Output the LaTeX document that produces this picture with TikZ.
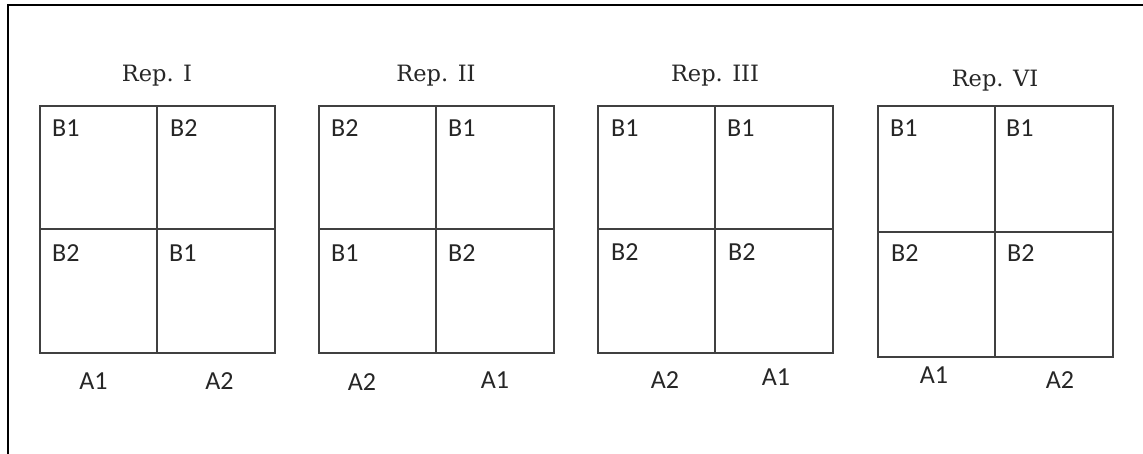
\documentclass[tikz,border=0pt]{standalone}
\usepackage{fontspec}
\newfontfamily\cellfont{Carlito}
\newfontfamily\titlefont{DejaVu Serif}
\definecolor{gridgray}{HTML}{404040}
\begin{document}
\begin{tikzpicture}[x=1pt,y=-1pt,
  frame/.style={line width=1.8pt,black},
  gridline/.style={line width=1.4pt,gridgray},
  title/.style={inner sep=0pt,anchor=base,font=\titlefont\fontsize{22.5}{26}\selectfont,text=black!85},
  cell/.style={inner sep=0pt,anchor=base west,font=\cellfont\fontsize{26}{30}\selectfont,text=black!85},
  alab/.style={inner sep=0pt,anchor=center,font=\cellfont\fontsize{26}{30}\selectfont,text=black!85}]
\useasboundingbox (0,0) rectangle (1143,454);
% frame (top and left edges only)
\draw[frame] (8,460) -- (8,5) -- (1150,5);
% Rep. I
\draw[gridline] (40,106) rectangle (275,353);
\draw[gridline] (157,106) -- (157,353);
\draw[gridline] (40,229) -- (275,229);
\node[title] (t1) at (157,82) {Rep. I};
\node[cell] (c1a) at (52,137) {B1};
\node[cell] (c1b) at (170,137) {B2};
\node[cell] (c1c) at (52,262) {B2};
\node[cell] (c1d) at (169,262) {B1};
\node[alab] (a1a) at (93.5,381) {A1};
\node[alab] (a1b) at (219.5,381) {A2};
% Rep. II
\draw[gridline] (319,106) rectangle (554,353);
\draw[gridline] (436,106) -- (436,353);
\draw[gridline] (319,229) -- (554,229);
\node[title] (t2) at (436,82) {Rep. II};
\node[cell] (c2a) at (331,137) {B2};
\node[cell] (c2b) at (448,137) {B1};
\node[cell] (c2c) at (331,262) {B1};
\node[cell] (c2d) at (448,262) {B2};
\node[alab] (a2a) at (362,382) {A2};
\node[alab] (a2b) at (495,380) {A1};
% Rep. III
\draw[gridline] (598,106) rectangle (833,353);
\draw[gridline] (715,106) -- (715,353);
\draw[gridline] (598,229) -- (833,229);
\node[title] (t3) at (715,82) {Rep. III};
\node[cell] (c3a) at (611,137) {B1};
\node[cell] (c3b) at (727,137) {B1};
\node[cell] (c3c) at (611,261) {B2};
\node[cell] (c3d) at (728,261) {B2};
\node[alab] (a3a) at (665,380.5) {A2};
\node[alab] (a3b) at (776,377) {A1};
% Rep. VI
\draw[gridline] (878,106) rectangle (1113,357);
\draw[gridline] (995,106) -- (995,357);
\draw[gridline] (878,232) -- (1113,232);
\node[title] (t4) at (995,87) {Rep. VI};
\node[cell] (c4a) at (890,137) {B1};
\node[cell] (c4b) at (1006,137) {B1};
\node[cell] (c4c) at (891,262) {B2};
\node[cell] (c4d) at (1007,262) {B2};
\node[alab] (a4a) at (934,375) {A1};
\node[alab] (a4b) at (1060,380.5) {A2};
\end{tikzpicture}
\end{document}
